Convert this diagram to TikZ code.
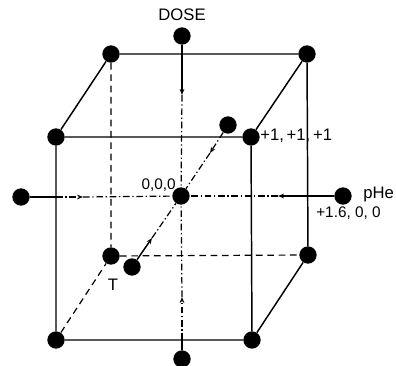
\documentclass[tikz,border=0pt]{standalone}
\usepackage{fontspec}
\setmainfont{Liberation Sans}
\usetikzlibrary{arrows.meta}
\tikzset{
  dot/.style={circle, fill, inner sep=0pt, minimum size=13pt},
  edge/.style={line width=1.1pt},
  hidden/.style={line width=0.9pt, dash pattern=on 5pt off 3.5pt},
  dashdot/.style={line width=0.9pt, dash pattern=on 5pt off 2pt on 1pt off 2pt},
  tip/.style={-{Stealth[length=4.5pt, width=3.5pt]}},
  lbl/.style={font=\fontsize{12.5}{14}\selectfont, inner sep=0pt}
}
\begin{document}
\begin{tikzpicture}[x=0.75pt, y=-0.75pt, >=stealth]
                \useasboundingbox (0,0) rectangle (396,366);
                % cube corners
                \node[dot] (FTL) at (56,137) {};
                \node[dot] (FTR) at (251,137) {};
                \node[dot] (FBL) at (56,340) {};
                \node[dot] (FBR) at (252,340) {};
                \node[dot] (BTL) at (111,54) {};
                \node[dot] (BTR) at (307,54) {};
                \node[dot] (BBL) at (111,256) {};
                \node[dot] (BBR) at (308,255) {};
                % centre and star points
                \node[dot] (C) at (181,196) {};
                \node[dot] (D1) at (182,36) {};
                \node[dot] (D2) at (182,359) {};
                \node[dot] (P1) at (21,197) {};
                \node[dot] (P2) at (343,196) {};
                \node[dot] (T1) at (132,267) {};
                \node[dot] (T2) at (228,125) {};
                
                \coordinate (ad) at (182,95);
                \coordinate (eb) at (182,340);
                \coordinate (ab) at (182,297);
                \coordinate (el) at (56,197);
                \coordinate (al) at (83,197);
                \coordinate (ar) at (278,196);
                \coordinate (at1) at (152,238);
                \coordinate (at2) at (210,153);
                
                \draw[edge] (FTL) -- (FTR) -- (FBR) -- (FBL) -- (FTL);
                \draw[edge] (FTL) -- (BTL) -- (BTR) -- (FTR);
                \draw[edge] (BTR) -- (BBR) -- (FBR);
                \draw[hidden] (BTL) -- (BBL) -- (BBR);
                \draw[hidden] (FBL) -- (BBL);
                
                \draw[edge, tip] (D1) -- (ad);
                \draw[dashdot] (ad) -- (C);
                \draw[edge] (D2) -- (eb);
                \draw[dashdot, tip] (eb) -- (ab);
                \draw[dashdot] (ab) -- (C);
                \draw[edge] (P1) -- (el);
                \draw[dashdot, tip] (el) -- (al);
                \draw[dashdot] (al) -- (C);
                \draw[edge, tip] (P2) -- (ar);
                \draw[dashdot] (ar) -- (C);
                \draw[edge, tip] (T1) -- (at1);
                \draw[dashdot] (at1) -- (C);
                \draw[dashdot, tip] (T2) -- (at2);
                \draw[dashdot] (at2) -- (C);
                
                \node[lbl] (dose) at (182,15) {DOSE};
                \node[lbl, anchor=west] (ppp) at (260,136) {+1,\,+1,\,+1};
                \node[lbl, font=\fontsize{11.5}{13}\selectfont, anchor=east] (zero) at (176,185) {0,0,0};
                \node[lbl, anchor=west] (phe) at (363,194) {pHe};
                \node[lbl, font=\fontsize{11.5}{13}\selectfont, anchor=west] (star) at (316,213) {+1.6, 0, 0};
                \node[lbl] (t) at (113,285) {T};
\end{tikzpicture}
\end{document}
